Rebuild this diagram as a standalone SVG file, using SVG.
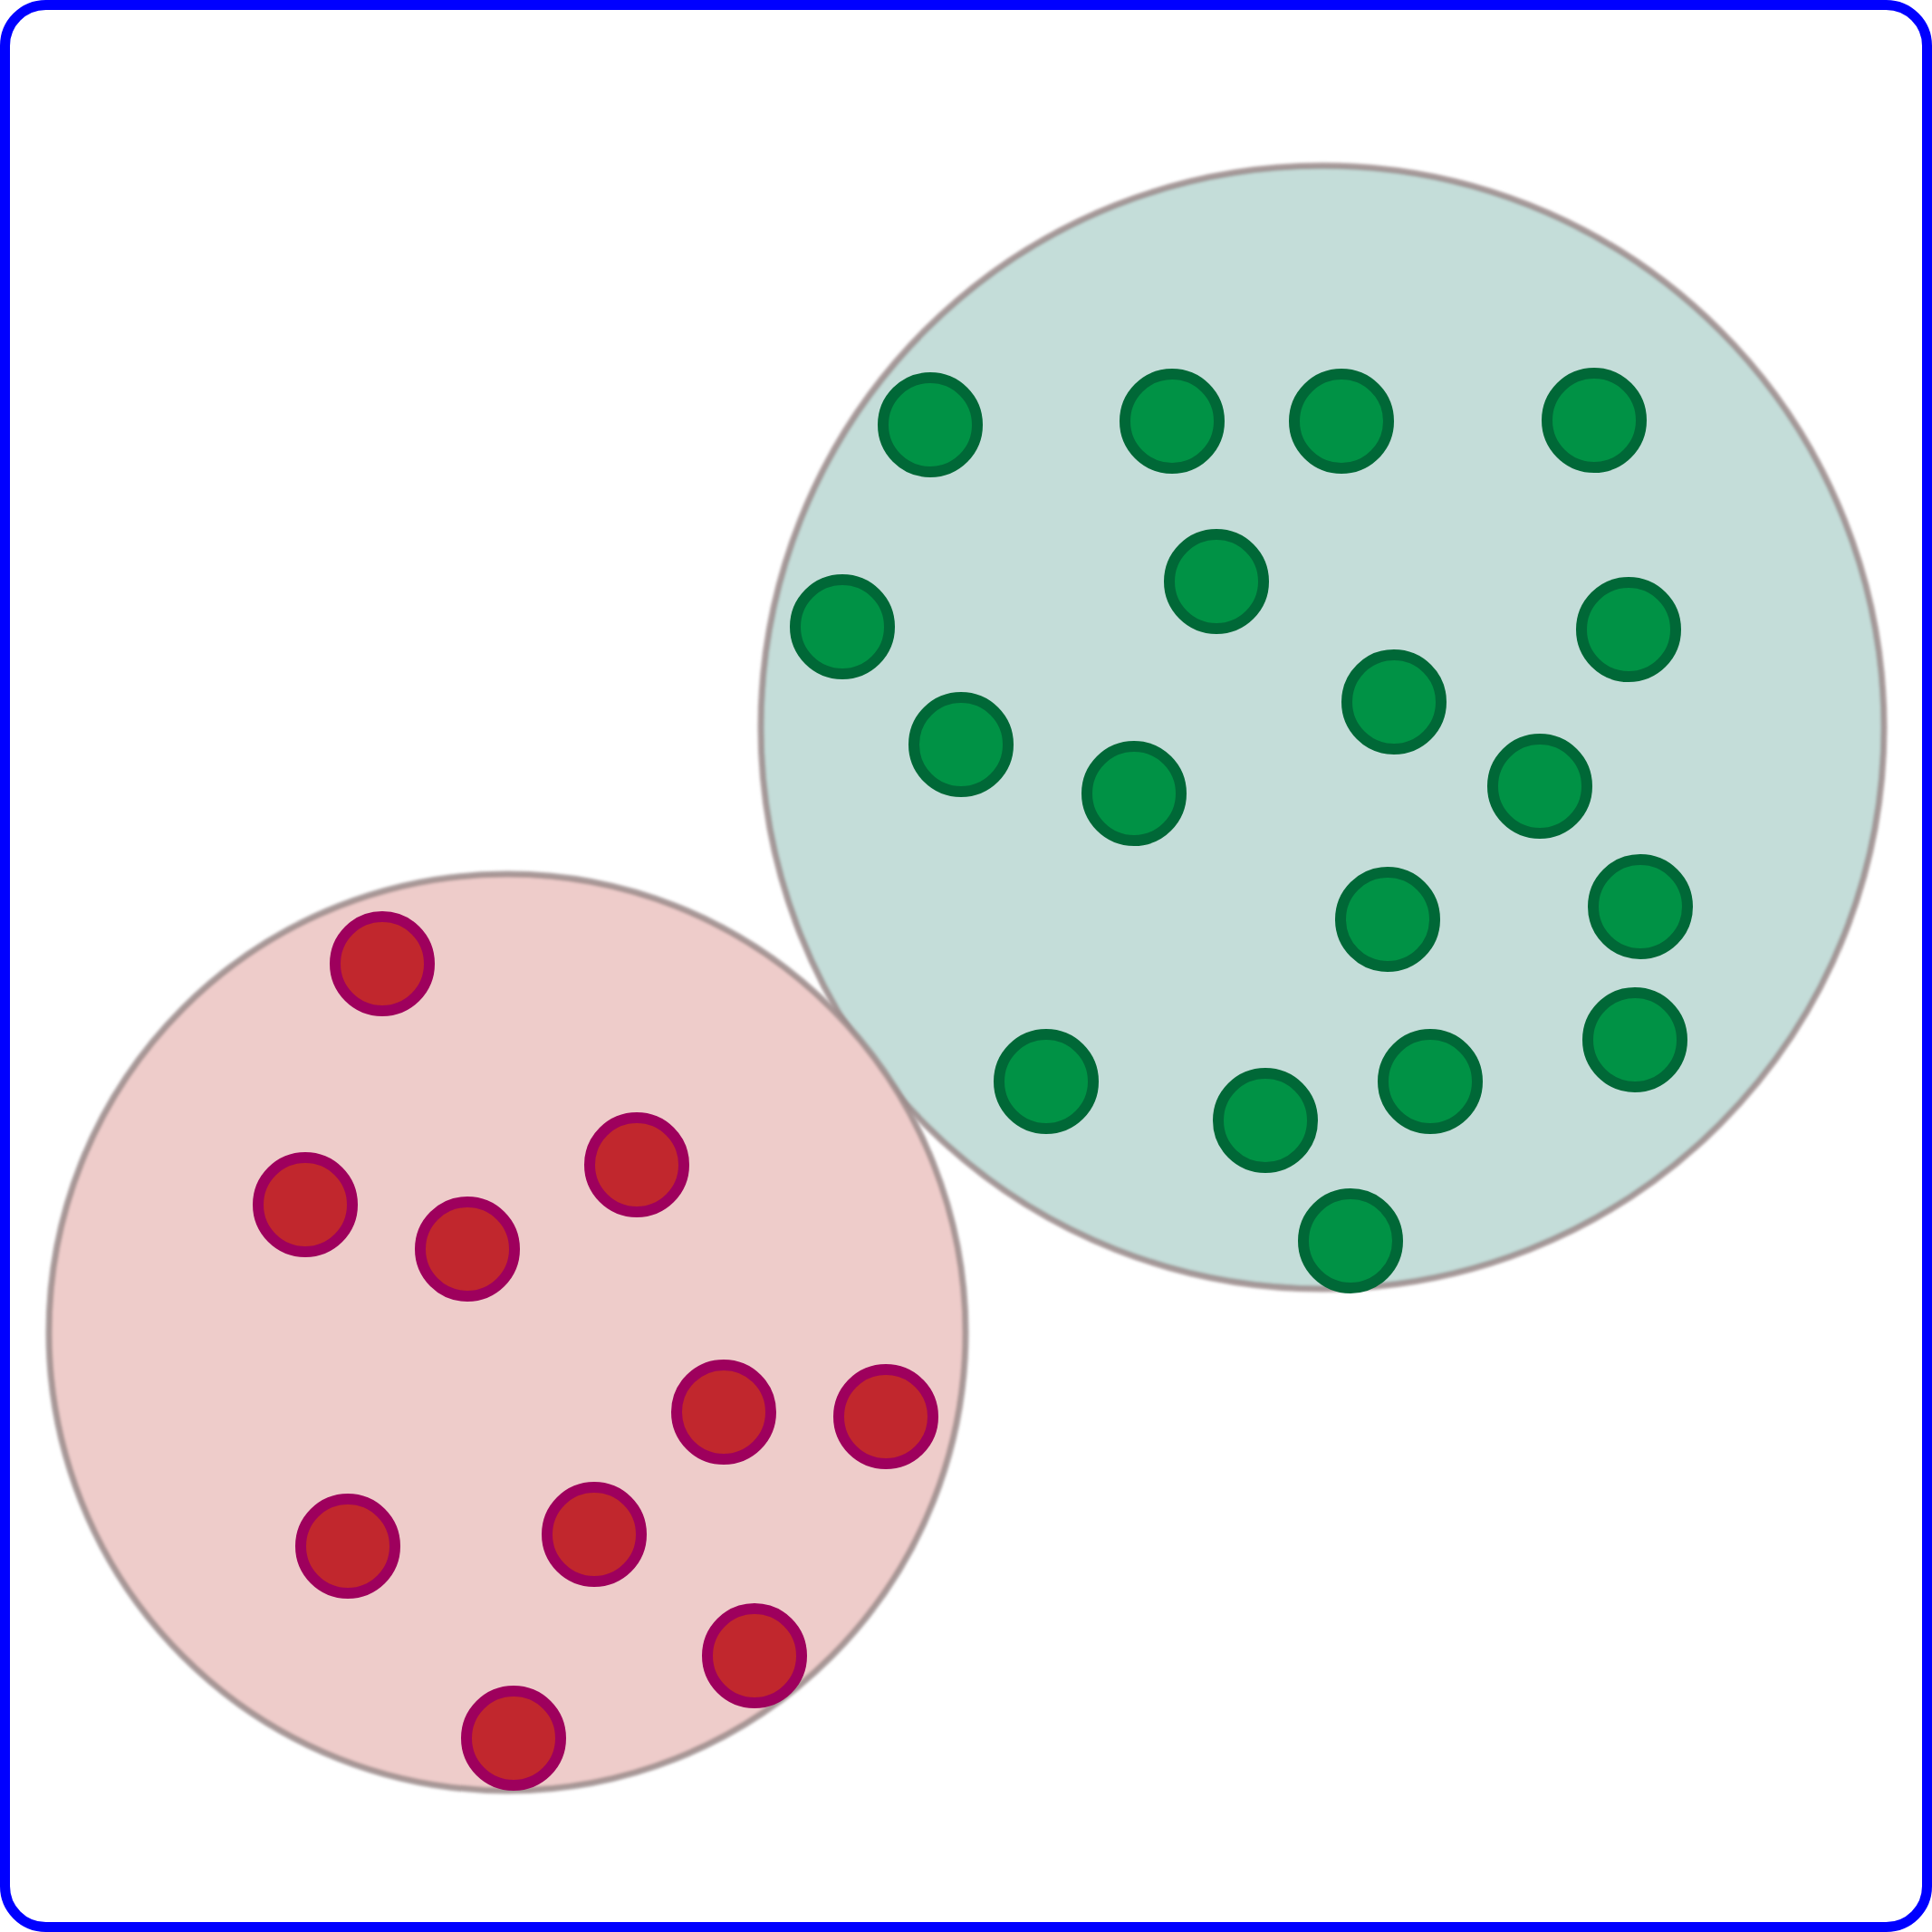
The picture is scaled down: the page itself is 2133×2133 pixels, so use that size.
<svg xmlns="http://www.w3.org/2000/svg" width="2133" height="2133" viewBox="0 0 2133 2133">
<defs>
<style>
.g{fill:#009245;stroke:#006837;stroke-width:12}
.r{fill:#c1272d;stroke:#9e005d;stroke-width:12}
.big{stroke:#9a8a8a;stroke-width:7;stroke-opacity:0.85}
</style>
<filter id="soft" x="-5%" y="-5%" width="110%" height="110%"><feGaussianBlur stdDeviation="1.5"/></filter>
</defs>
<rect x="0" y="0" width="2133" height="2133" fill="#ffffff"/>
<rect id="frame" x="5.5" y="5.5" width="2122" height="2122" rx="45" ry="45" fill="#ffffff" stroke="#0000ff" stroke-width="11"/>
<g id="cluster-green">
<circle cx="1460" cy="803" r="620" fill="#c4ddd9" class="big" filter="url(#soft)"/>
</g>
<g id="cluster-red">
<circle cx="560" cy="1471" r="506" fill="#eeccca" class="big" filter="url(#soft)"/>
</g>
<g id="green-dots">
<circle id="g1" class="g" cx="1027" cy="469" r="52"/>
<circle id="g2" class="g" cx="1294" cy="465" r="52"/>
<circle id="g3" class="g" cx="1481" cy="465" r="52"/>
<circle id="g4" class="g" cx="1760" cy="464" r="52"/>
<circle id="g5" class="g" cx="1343" cy="642" r="52"/>
<circle id="g6" class="g" cx="930" cy="692" r="52"/>
<circle id="g7" class="g" cx="1798" cy="695" r="52"/>
<circle id="g8" class="g" cx="1539" cy="775" r="52"/>
<circle id="g9" class="g" cx="1061" cy="822" r="52"/>
<circle id="g10" class="g" cx="1252" cy="876" r="52"/>
<circle id="g11" class="g" cx="1700" cy="868" r="52"/>
<circle id="g12" class="g" cx="1532" cy="1015" r="52"/>
<circle id="g13" class="g" cx="1811" cy="1001" r="52"/>
<circle id="g14" class="g" cx="1805" cy="1148" r="52"/>
<circle id="g15" class="g" cx="1155" cy="1194" r="52"/>
<circle id="g16" class="g" cx="1579" cy="1194" r="52"/>
<circle id="g17" class="g" cx="1397" cy="1237" r="52"/>
<circle id="g18" class="g" cx="1491" cy="1370" r="52"/>
</g>
<g id="red-dots">
<circle id="r1" class="r" cx="422" cy="1064" r="52"/>
<circle id="r2" class="r" cx="703" cy="1286" r="52"/>
<circle id="r3" class="r" cx="337" cy="1330" r="52"/>
<circle id="r4" class="r" cx="516" cy="1379" r="52"/>
<circle id="r5" class="r" cx="799" cy="1559" r="52"/>
<circle id="r6" class="r" cx="978" cy="1564" r="52"/>
<circle id="r7" class="r" cx="384" cy="1707" r="52"/>
<circle id="r8" class="r" cx="656" cy="1694" r="52"/>
<circle id="r9" class="r" cx="833" cy="1828" r="52"/>
<circle id="r10" class="r" cx="567" cy="1919" r="52"/>
</g>
</svg>
